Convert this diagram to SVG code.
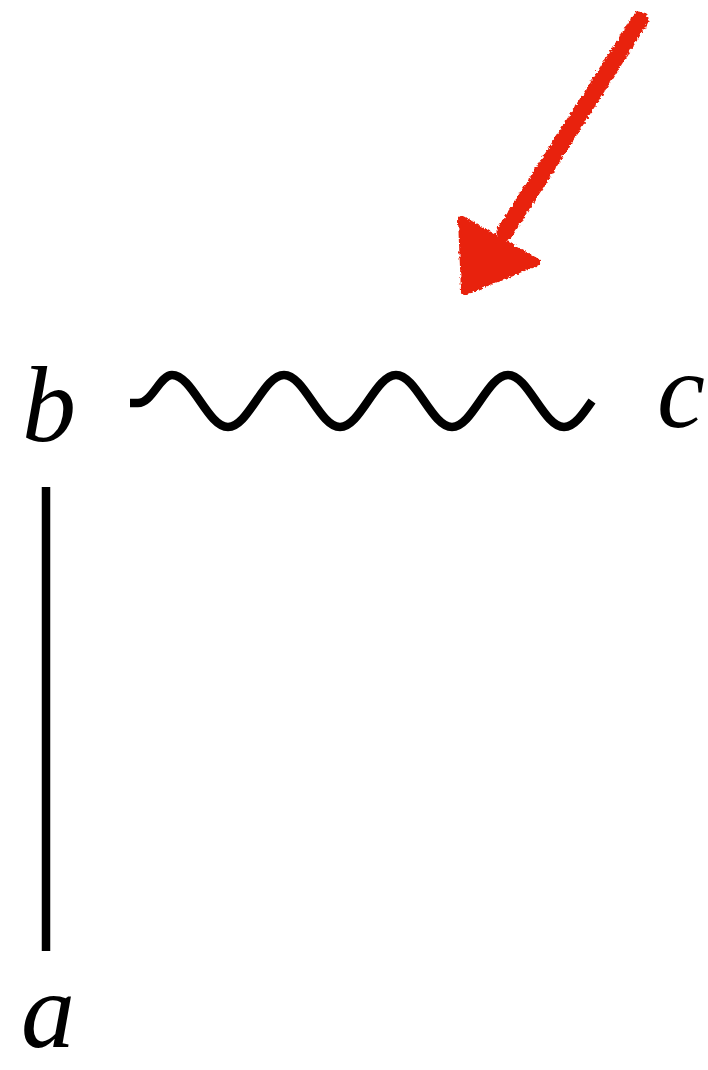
<svg xmlns="http://www.w3.org/2000/svg" width="708" height="1070" viewBox="0 0 708 1070">
<style>
.lbl{font-family:"Liberation Serif","Times New Roman",serif;font-style:italic;font-size:108px;fill:#000;text-anchor:middle}
.edge{fill:none;stroke:#000;stroke-width:8.5}
.red{fill:#E8230F;stroke:#E8230F;stroke-linejoin:round;stroke-linecap:round}
</style>
<defs>
<filter id="rough" x="-10%" y="-10%" width="120%" height="120%">
<feTurbulence type="fractalNoise" baseFrequency="0.35" numOctaves="2" seed="3" result="n"/>
<feDisplacementMap in="SourceGraphic" in2="n" scale="5" xChannelSelector="R" yChannelSelector="G"/>
</filter>
</defs>
<rect width="708" height="1070" fill="#fff"/>
<g id="connectors">
<path class="edge" d="M46,487 V951"/>
<path class="edge" d="M130,403 h8 c14,0 22,-28 34,-28 c10.13,0 18.87,12.7 28,26 c9.13,13.3 17.87,26 28,26 c10.13,0 18.87,-12.7 28,-26 c9.13,-13.3 17.87,-26 28,-26 c10.13,0 18.87,12.7 28,26 c9.13,13.3 17.87,26 28,26 c10.13,0 18.87,-12.7 28,-26 c9.13,-13.3 17.87,-26 28,-26 c10.13,0 18.87,12.7 28,26 c9.13,13.3 17.87,26 28,26 c10.13,0 18.87,-12.7 28,-26 c9.13,-13.3 17.87,-26 28,-26 c10.13,0 18.87,12.7 28,26 c9.13,13.3 17.87,26 28,26 c10.13,0 18.87,-12.7 28,-26"/>
</g>
<g id="node-b"><text class="lbl" x="49" y="441">b</text></g>
<g id="node-c"><text class="lbl" x="681" y="427">c</text></g>
<g id="node-a"><text class="lbl" x="48" y="1047">a</text></g>
<g id="arrow" filter="url(#rough)">
<line class="red" x1="640" y1="20" x2="505" y2="232" stroke-width="17"/>
<polygon class="red" points="462,220 465,291 536,262" stroke-width="8"/>
</g>
</svg>
